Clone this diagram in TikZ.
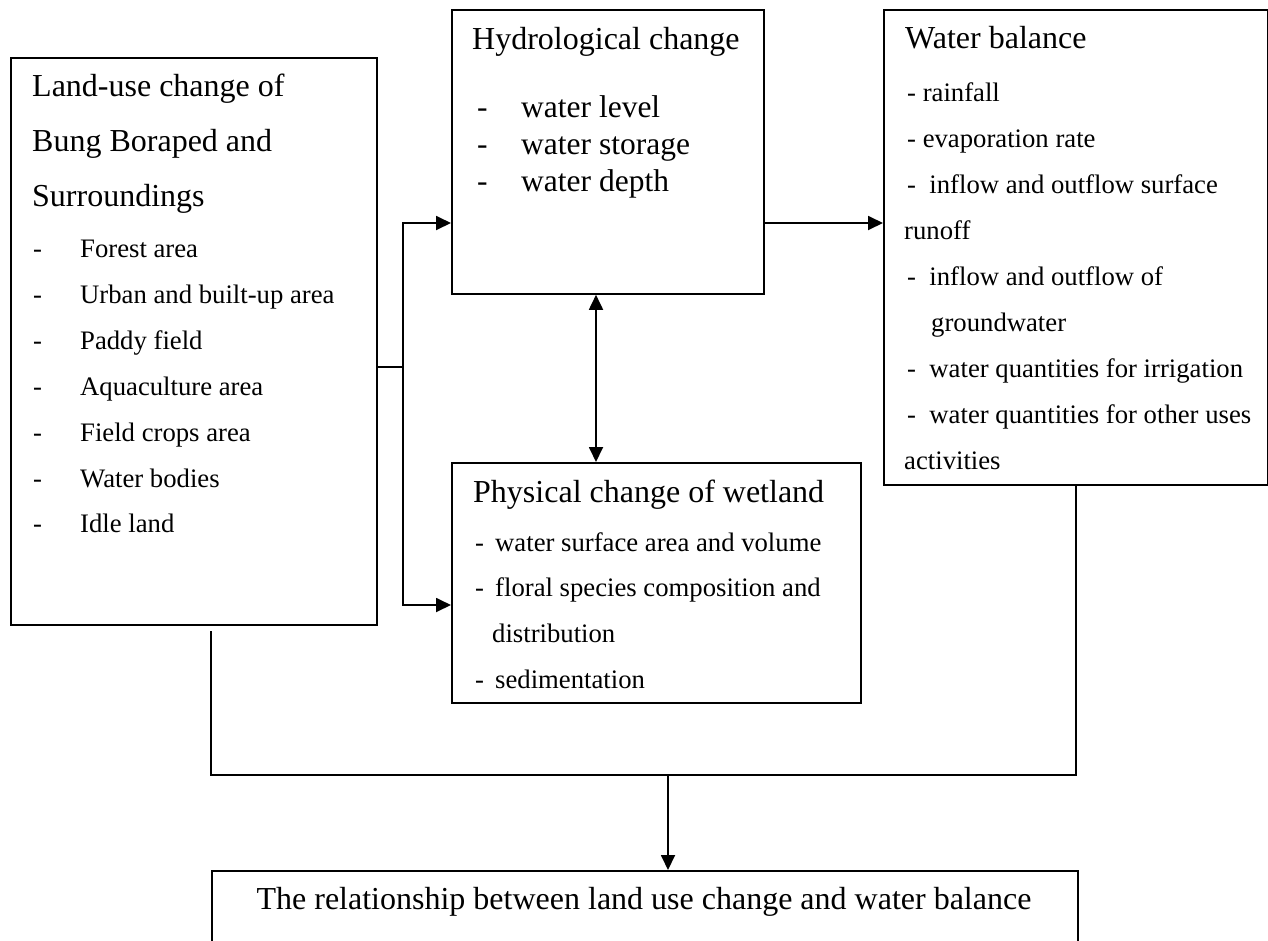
\documentclass[tikz,border=0pt]{standalone}
\usepackage{fontspec}
\setmainfont{Liberation Serif}
\usetikzlibrary{positioning,arrows.meta}

\begin{document}
\begin{tikzpicture}[x=1pt, y=-1pt,
    boxnode/.style={rectangle, draw=black, line width=1.8pt, anchor=north west, inner sep=0pt},
    headtext/.style={anchor=base west, inner sep=0pt, font=\fontsize{32}{38}\selectfont},
    itemtext/.style={anchor=base west, inner sep=0pt, font=\fontsize{26.7}{32}\selectfont},
    bigitem/.style={anchor=base west, inner sep=0pt, font=\fontsize{31.5}{37}\selectfont},
    plainlink/.style={line width=1.8pt},
    arrowlink/.style={line width=1.8pt, -{Triangle[length=15pt, width=14pt]}},
    bothlink/.style={line width=1.8pt, {Triangle[length=15pt, width=14pt]}-{Triangle[length=15pt, width=14pt]}}]

        \useasboundingbox (0,0) rectangle (1268,940);

        \node[boxnode, minimum width=366pt, minimum height=567pt] (landuse) at (10,57) {};
        \node[headtext] (lutitlea) at (32,96) {Land-use change of};
        \node[headtext] (lutitleb) at (32,151) {Bung Boraped and};
        \node[headtext] (lutitlec) at (32,206) {Surroundings};
        \node[itemtext] (luforest) at (33,257) {\makebox[47pt][l]{-}Forest area};
        \node[itemtext] (luurban) at (33,303) {\makebox[47pt][l]{-}Urban and built-up area};
        \node[itemtext] (lupaddy) at (33,349) {\makebox[47pt][l]{-}Paddy field};
        \node[itemtext] (luaqua) at (33,395) {\makebox[47pt][l]{-}Aquaculture area};
        \node[itemtext] (lufield) at (33,441) {\makebox[47pt][l]{-}Field crops area};
        \node[itemtext] (luwater) at (33,487) {\makebox[47pt][l]{-}Water bodies};
        \node[itemtext] (luidle) at (33,532) {\makebox[47pt][l]{-}Idle land};

        \node[boxnode, minimum width=312pt, minimum height=284pt] (hydro) at (451,9) {};
        \node[headtext] (hytitle) at (472,49) {Hydrological change};
        \node[bigitem] (hylevel) at (477,117) {\makebox[44pt][l]{-}water level};
        \node[bigitem] (hystorage) at (477,154) {\makebox[44pt][l]{-}water storage};
        \node[bigitem] (hydepth) at (477,191) {\makebox[44pt][l]{-}water depth};

        \node[boxnode, minimum width=384pt, minimum height=475pt] (balance) at (883,9) {};
        \node[headtext] (wbtitle) at (905,48) {Water balance};
        \node[itemtext] (wbrain) at (907,101) {- rainfall};
        \node[itemtext] (wbevap) at (907,147) {- evaporation rate};
        \node[itemtext] (wbsurface) at (907,193) {-~~inflow and outflow surface};
        \node[itemtext] (wbrunoff) at (904,239) {runoff};
        \node[itemtext] (wbground) at (907,285) {-~~inflow and outflow of};
        \node[itemtext] (wbgroundb) at (931,331) {groundwater};
        \node[itemtext] (wbirrig) at (907,377) {-~~water quantities for irrigation};
        \node[itemtext] (wbother) at (907,423) {-~~water quantities for other uses};
        \node[itemtext] (wbact) at (904,469) {activities};

        \node[boxnode, minimum width=409pt, minimum height=240pt] (wetland) at (451,462) {};
        \node[headtext] (wettitle) at (473,502) {Physical change of wetland};
        \node[itemtext] (wetarea) at (475,551) {\makebox[20pt][l]{-}water surface area and volume};
        \node[itemtext] (wetflora) at (475,596) {\makebox[20pt][l]{-}floral species composition and};
        \node[itemtext] (wetdist) at (492,642) {distribution};
        \node[itemtext] (wetsed) at (475,688) {\makebox[20pt][l]{-}sedimentation};

        \node[boxnode, minimum width=866pt, minimum height=100pt] (result) at (211,870) {};
        \node[headtext, anchor=base] (restext) at (644,909) {The relationship between land use change and water balance};

        \coordinate (lujoint) at (403,367);
        \coordinate (hydroin) at (451,223);
        \coordinate (wetin) at (451,605);
        \coordinate (linkx) at (596,380);
        \coordinate (lufoot) at (211,631);
        \coordinate (merge) at (668,775);

        \draw[plainlink] (landuse.east |- lujoint) -- (lujoint);
        \draw[arrowlink] (lujoint) |- (hydroin);
        \draw[arrowlink] (lujoint) |- (wetin);
        \draw[arrowlink] (hydroin -| hydro.east) -- (hydroin -| balance.west);
        \draw[bothlink] (linkx |- hydro.south) -- (linkx |- wetland.north);
        \draw[plainlink] (lufoot) |- (merge);
        \draw[plainlink] (balance.south) |- (merge);
        \draw[arrowlink] (merge) -- (merge |- result.north);

        \end{tikzpicture}
\end{document}
